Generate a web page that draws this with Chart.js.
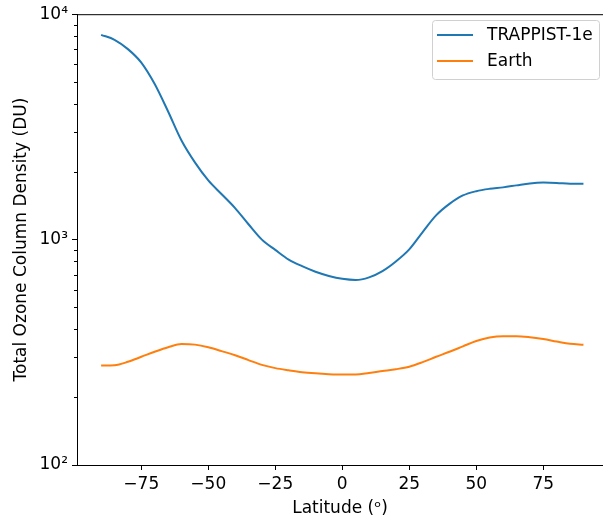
<!DOCTYPE html>
<html>
<head>
<meta charset="utf-8">
<script src="https://cdn.jsdelivr.net/npm/chart.js@4.4.1/dist/chart.umd.min.js"></script>
<style>
  html, body { margin: 0; padding: 0; background: #fff; overflow: hidden; }
  #wrap { width: 603px; height: 516px; }
</style>
</head>
<body>
<div id="wrap"><canvas id="c" width="603" height="516"></canvas></div>
<script>
// latitude grid (degrees)
const latitudes = [-90, -85, -80, -75, -70, -65, -60, -55, -50, -45, -40, -35, -30, -25, -20, -15, -10, -5, 0,
  5, 10, 15, 20, 25, 30, 35, 40, 45, 50, 55, 60, 65, 70, 75, 80, 85, 90];

// total ozone column (DU)
const trappist = [8100, 7700, 7000, 6100, 4900, 3700, 2750, 2200, 1830, 1590, 1380, 1170, 1000, 900, 815,
  762, 720, 690, 670, 662, 680, 725, 800, 905, 1080, 1280, 1440, 1570, 1640, 1680, 1705, 1740, 1775, 1790,
  1785, 1770, 1770];
const earth = [276, 277, 287, 302, 318, 333, 344, 342, 333, 320, 307, 292, 278, 269, 263, 258, 255, 253, 252,
  252, 256, 261, 266, 273, 286, 302, 318, 336, 355, 368, 373, 373, 369, 362, 353, 345, 342];

const xTicks = [-75, -50, -25, 0, 25, 50, 75];
const yTicks = [100, 1000, 10000];
const yTickLabels = { 100: '10²', 1000: '10³', 10000: '10⁴' };

const FONT = 'DejaVu Sans';
const SIZE = 17;

const toPoints = arr => latitudes.map((lat, i) => ({ x: lat, y: arr[i] }));

// top spine, minor log ticks, framed legend in the top right corner
const extras = {
  id: 'extras',
  afterDraw(chart) {
    const ctx = chart.ctx;
    const area = chart.chartArea;
    const y = chart.scales.y;
    ctx.save();
    ctx.strokeStyle = '#000';
    ctx.lineWidth = 1;
    ctx.beginPath();
    ctx.moveTo(area.left, area.top + 0.5);
    ctx.lineTo(area.right, area.top + 0.5);
    ctx.stroke();

    ctx.beginPath();
    [100, 1000].forEach(dec => {
      for (let k = 2; k <= 9; k++) {
        const py = Math.round(y.getPixelForValue(k * dec)) + 0.5;
        ctx.moveTo(area.left - 3, py);
        ctx.lineTo(area.left, py);
      }
    });
    ctx.stroke();

    // legend
    const bx = 432, by = 20, bw = 167, bh = 59;
    ctx.fillStyle = 'rgba(255,255,255,0.8)';
    ctx.strokeStyle = '#d0d0d0';
    ctx.beginPath();
    ctx.roundRect(bx + 0.5, by + 0.5, bw, bh, 3);
    ctx.fill();
    ctx.stroke();
    chart.data.datasets.forEach((ds, i) => {
      const ly = 35 + i * 26;
      ctx.strokeStyle = ds.borderColor;
      ctx.lineWidth = 2;
      ctx.beginPath();
      ctx.moveTo(437, ly);
      ctx.lineTo(473, ly);
      ctx.stroke();
      ctx.fillStyle = '#000';
      ctx.font = SIZE + 'px "' + FONT + '"';
      ctx.textBaseline = 'middle';
      ctx.fillText(ds.label, 487, ly + 1);
    });
    ctx.restore();
  }
};

new Chart(document.getElementById('c').getContext('2d'), {
  type: 'line',
  data: {
    datasets: [
      {
        label: 'TRAPPIST-1e',
        data: toPoints(trappist),
        borderColor: '#1f77b4',
        borderWidth: 2,
        pointRadius: 0,
        cubicInterpolationMode: 'monotone',
        fill: false
      },
      {
        label: 'Earth',
        data: toPoints(earth),
        borderColor: '#ff7f0e',
        borderWidth: 2,
        pointRadius: 0,
        cubicInterpolationMode: 'monotone',
        fill: false
      }
    ]
  },
  options: {
    responsive: false,
    animation: false,
    devicePixelRatio: 1,
    layout: { padding: { top: 13, right: 0, left: 11, bottom: 0 } },
    plugins: {
      legend: { display: false },
      tooltip: { enabled: false }
    },
    scales: {
      x: {
        type: 'linear',
        min: -99,
        max: 97.3,
        afterBuildTicks: s => { s.ticks = xTicks.map(v => ({ value: v })); },
        afterFit: s => { s.height = 51; },
        grid: { drawOnChartArea: false, tickLength: 5, color: '#000' },
        border: { color: '#000', width: 1 },
        ticks: {
          color: '#000',
          font: { family: FONT, size: SIZE },
          padding: 4,
          maxRotation: 0,
          callback: v => String(v).replace('-', '\u2212')
        },
        title: {
          display: true,
          text: 'Latitude (\u1d52)',
          color: '#000',
          font: { family: FONT, size: SIZE },
          padding: { top: 2, bottom: -3 }
        }
      },
      y: {
        type: 'logarithmic',
        min: 100,
        max: 10000,
        afterBuildTicks: s => { s.ticks = yTicks.map(v => ({ value: v })); },
        afterFit: s => { s.width = 66; },
        grid: { drawOnChartArea: false, tickLength: 5, color: '#000' },
        border: { color: '#000', width: 1 },
        ticks: {
          color: '#000',
          font: { family: FONT, size: SIZE },
          padding: 4,
          callback: v => yTickLabels[v] || ''
        },
        title: {
          display: true,
          text: 'Total Ozone Column Density (DU)',
          color: '#000',
          font: { family: FONT, size: SIZE },
          padding: { top: 0, bottom: 0 }
        }
      }
    }
  },
  plugins: [extras]
});
</script>
</body>
</html>
